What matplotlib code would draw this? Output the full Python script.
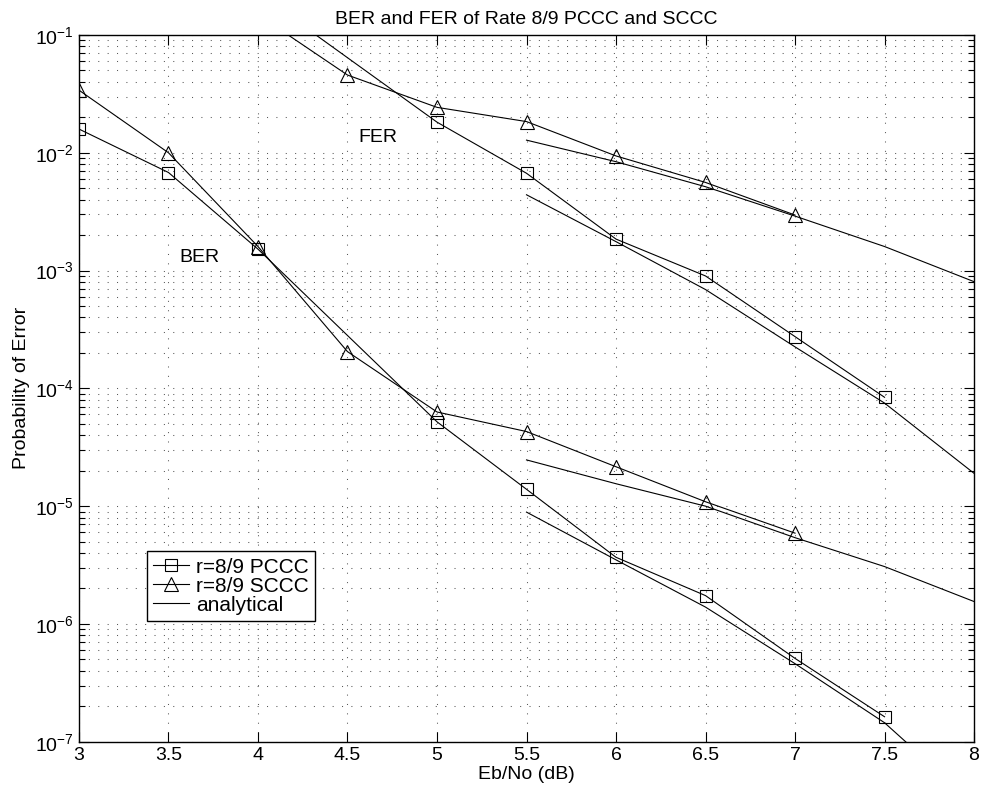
import numpy as np
import matplotlib
matplotlib.use('Agg')
import matplotlib.pyplot as plt
from matplotlib.ticker import LogLocator, NullFormatter

plt.rcParams['font.family'] = ['Liberation Sans', 'DejaVu Sans']
plt.rcParams['mathtext.fontset'] = 'custom'
plt.rcParams['mathtext.rm'] = 'Liberation Sans'

# simulated BER
ebno_ber_pccc = [3, 3.5, 4, 5, 5.5, 6, 6.5, 7, 7.5]
ber_pccc = [1.59e-2, 6.8e-3, 1.52e-3, 5.2e-5, 1.39e-5, 3.68e-6, 1.74e-6, 5.1e-7, 1.63e-7]
ebno_ber_sccc = [3, 3.5, 4, 4.5, 5, 5.5, 6, 6.5, 7]
ber_sccc = [3.4e-2, 1.0e-2, 1.6e-3, 2.05e-4, 6.3e-5, 4.3e-5, 2.16e-5, 1.09e-5, 5.9e-6]

# simulated FER
ebno_fer_pccc = [4, 5, 5.5, 6, 6.5, 7, 7.5]
fer_pccc = [0.226, 1.82e-2, 6.7e-3, 1.85e-3, 9.0e-4, 2.75e-4, 8.4e-5]
ebno_fer_sccc = [4, 4.5, 5, 5.5, 6, 6.5, 7]
fer_sccc = [0.149, 4.57e-2, 2.43e-2, 1.84e-2, 9.4e-3, 5.6e-3, 2.96e-3]

# analytical bounds
ebno_bound = [5.5, 6, 6.5, 7, 7.5, 8]
fer_sccc_bound = [1.28e-2, 8.4e-3, 5.15e-3, 2.9e-3, 1.6e-3, 8.05e-4]
fer_pccc_bound = [4.4e-3, 1.76e-3, 6.9e-4, 2.25e-4, 7.5e-5, 1.9e-5]
ber_sccc_bound = [2.47e-5, 1.55e-5, 1.0e-5, 5.4e-6, 3.07e-6, 1.55e-6]
ber_pccc_bound = [8.9e-6, 3.5e-6, 1.39e-6, 4.6e-7, 1.45e-7, 3e-8]

xticks = [3, 3.5, 4, 4.5, 5, 5.5, 6, 6.5, 7, 7.5, 8]
xticklabels = ['3', '3.5', '4', '4.5', '5', '5.5', '6', '6.5', '7', '7.5', '8']

fig = plt.figure(figsize=(9.81, 7.95), dpi=100)
ax = fig.add_axes([0.0805, 0.067, 0.9124, 0.889])

lw = 0.8
mk = dict(markerfacecolor='none', markeredgecolor='k', markeredgewidth=0.8)
ax.semilogy(ebno_ber_pccc, ber_pccc, 'k-s', lw=lw, ms=8, label='r=8/9 PCCC', **mk)
ax.semilogy(ebno_ber_sccc, ber_sccc, 'k-^', lw=lw, ms=10, label='r=8/9 SCCC', **mk)
ax.semilogy(ebno_bound, ber_pccc_bound, 'k-', lw=lw, label='analytical')
ax.semilogy(ebno_bound, ber_sccc_bound, 'k-', lw=lw)
ax.semilogy(ebno_fer_pccc, fer_pccc, 'k-s', lw=lw, ms=8, **mk)
ax.semilogy(ebno_fer_sccc, fer_sccc, 'k-^', lw=lw, ms=10, **mk)
ax.semilogy(ebno_bound, fer_pccc_bound, 'k-', lw=lw)
ax.semilogy(ebno_bound, fer_sccc_bound, 'k-', lw=lw)

ax.set_xlim(3, 8)
ax.set_ylim(1e-7, 1e-1)
ax.set_xticks(xticks)
ax.set_xticklabels(xticklabels)
ax.yaxis.set_major_locator(LogLocator(base=10, numticks=10))
ax.yaxis.set_minor_locator(LogLocator(base=10, subs=np.arange(2, 10), numticks=100))
ax.yaxis.set_minor_formatter(NullFormatter())

grid_style = dict(color='0.35', linestyle=(0, (1, 8)), linewidth=0.75)
ax.grid(True, which='major', axis='both', **grid_style)
ax.grid(True, which='minor', axis='y', **grid_style)

ax.tick_params(which='both', direction='in', top=True, right=True, labelsize=14)
ax.tick_params(which='major', length=7, width=0.8)
ax.tick_params(which='minor', length=4, width=0.8)
for s in ax.spines.values():
    s.set_linewidth(1.0)

ax.text(4.668, 1.34e-2, 'FER', fontsize=14, ha='center', va='center')
ax.text(3.673, 1.28e-3, 'BER', fontsize=14, ha='center', va='center')

ax.set_title('BER and FER of Rate 8/9 PCCC and SCCC', fontsize=14, pad=8)
ax.set_xlabel('Eb/No (dB)', fontsize=14, labelpad=2)
ax.set_ylabel('Probability of Error', fontsize=14, labelpad=4)

leg = ax.legend(loc='lower left', bbox_to_anchor=(0.076, 0.171), borderaxespad=0,
                fontsize=15, fancybox=False, edgecolor='k', framealpha=1,
                handlelength=1.7, borderpad=0.3, labelspacing=0.0,
                handletextpad=0.35)
leg.get_frame().set_linewidth(1.0)

plt.savefig('out.png', dpi=100)
